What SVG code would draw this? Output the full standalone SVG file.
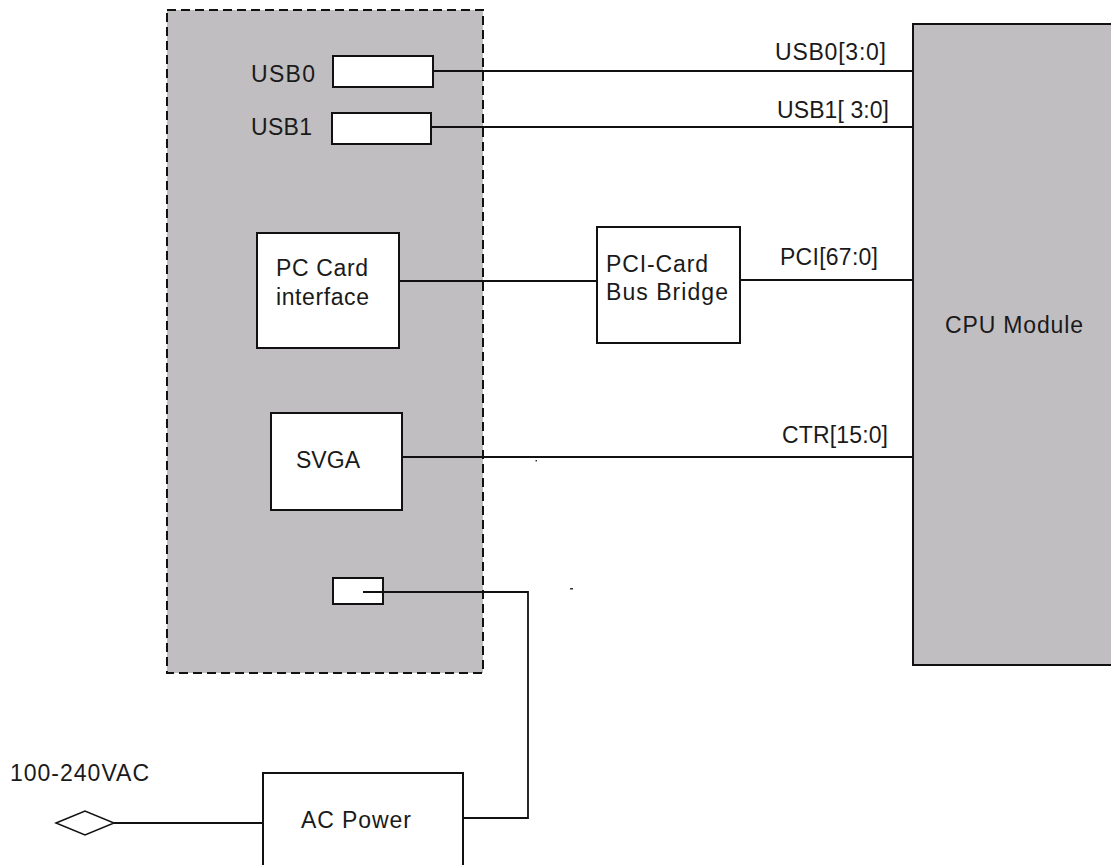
<svg xmlns="http://www.w3.org/2000/svg" width="1111" height="865" viewBox="0 0 1111 865">
<style>
.box{fill:#ffffff;stroke:#111111;stroke-width:2}
.grey{fill:#c0bec1;stroke:#111111;stroke-width:2}
.wire{fill:none;stroke:#111111;stroke-width:1.8}
text{font-family:"Liberation Sans",Arial,sans-serif;font-size:23px;fill:#1a1a1a}
</style>
<rect width="1111" height="865" fill="#ffffff"/>
<g id="board">
<rect x="167" y="10" width="316" height="663" fill="#c0bec1" stroke="#111111" stroke-width="2" stroke-dasharray="9,5"/>
</g>
<g id="cpu-module">
<rect class="grey" x="913" y="24" width="210" height="641"/>
<text x="945" y="333" textLength="138" lengthAdjust="spacing">CPU Module</text>
</g>
<g id="usb0">
<rect class="box" x="333" y="56" width="100" height="31"/>
<text x="251" y="82" textLength="64" lengthAdjust="spacing">USB0</text>
</g>
<g id="usb1">
<rect class="box" x="332" y="113" width="99" height="31"/>
<text x="251" y="135" textLength="61" lengthAdjust="spacing">USB1</text>
</g>
<g id="pc-card">
<rect class="box" x="257" y="233" width="142" height="115"/>
<text x="276" y="276" textLength="92" lengthAdjust="spacing">PC Card</text>
<text x="276" y="305" textLength="93" lengthAdjust="spacing">interface</text>
</g>
<g id="pci-bridge">
<rect class="box" x="597" y="227" width="143" height="116"/>
<text x="606" y="272" textLength="102" lengthAdjust="spacing">PCI-Card</text>
<text x="606" y="300" textLength="122" lengthAdjust="spacing">Bus Bridge</text>
</g>
<g id="svga">
<rect class="box" x="271" y="413" width="131" height="97"/>
<text x="296" y="468" textLength="64" lengthAdjust="spacing">SVGA</text>
</g>
<g id="power-connector">
<rect class="box" x="333" y="578" width="50" height="26"/>
</g>
<g id="ac-power">
<rect class="box" x="263" y="773" width="200" height="100"/>
<text x="301" y="828" textLength="110" lengthAdjust="spacing">AC Power</text>
</g>
<g id="ac-input">
<polygon points="56,823 85,811 114,823 85,835" fill="#ffffff" stroke="#111111" stroke-width="1.5"/>
<text x="10" y="781" textLength="139" lengthAdjust="spacing">100-240VAC</text>
</g>
<g id="connectors">
<polyline class="wire" points="433,71 913,71"/>
<polyline class="wire" points="431,127 913,127"/>
<polyline class="wire" points="399,281 597,281"/>
<polyline class="wire" points="740,280 913,280"/>
<polyline class="wire" points="402,457 913,457"/>
<polyline class="wire" points="363,592 528,592 528,818 463,818"/>
<polyline class="wire" points="114,823 263,823"/>
<text x="775" y="60" textLength="111" lengthAdjust="spacing">USB0[3:0]</text>
<text x="777" y="118" textLength="112" lengthAdjust="spacing">USB1[ 3:0]</text>
<text x="780" y="265" textLength="98" lengthAdjust="spacing">PCI[67:0]</text>
<text x="782" y="443" textLength="106" lengthAdjust="spacing">CTR[15:0]</text>
</g>
<g id="marks">
<rect x="535.5" y="460" width="1.5" height="1.5" fill="#333333"/>
<rect x="570" y="588" width="3" height="1.5" fill="#333333"/>
</g>
</svg>
